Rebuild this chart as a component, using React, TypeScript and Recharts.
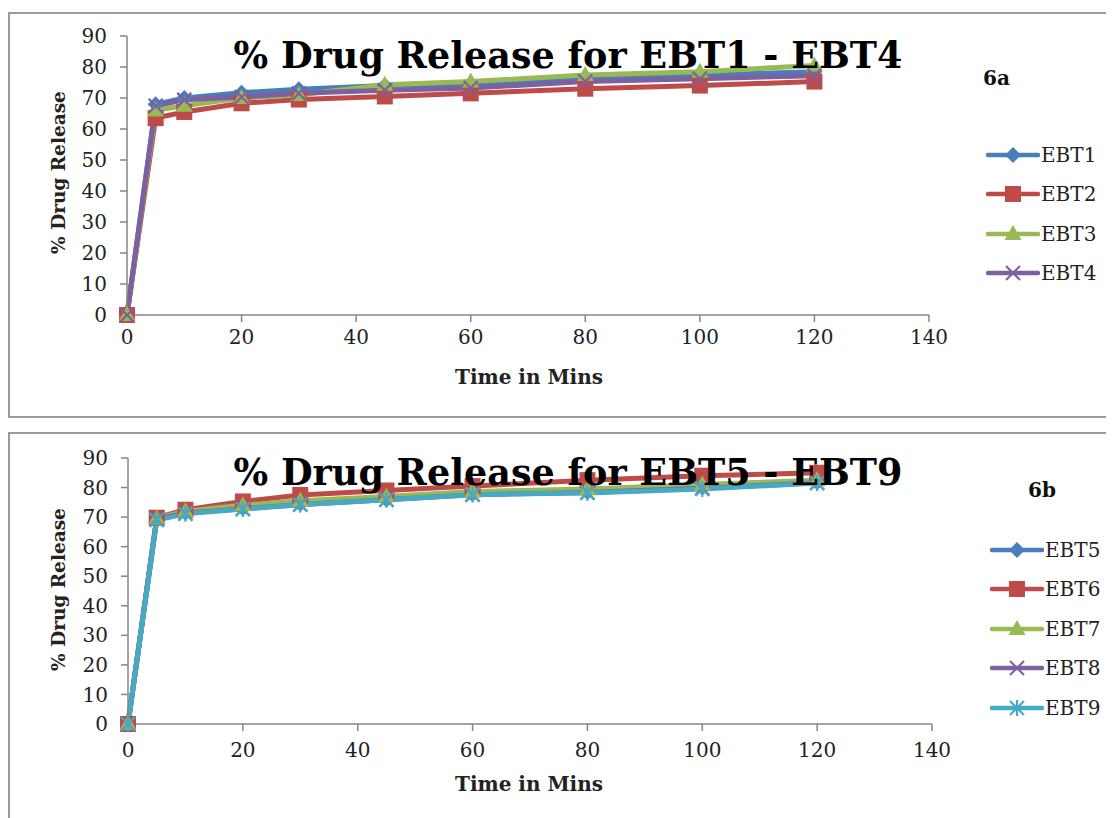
import React from "react";
import { Line, LineChart, XAxis, YAxis } from "recharts";

const TIME = [0, 5, 10, 20, 30, 45, 60, 80, 100, 120];

const EBT1 = [0, 68, 70, 71.7, 72.8, 74, 74.5, 76.3, 77.4, 78.5];
const EBT2 = [0, 63.5, 65.5, 68.3, 69.5, 70.5, 71.5, 73, 74, 75.3];
const EBT3 = [0, 66, 67.5, 70, 71, 74.3, 75.3, 77.4, 78.5, 80.5];
const EBT4 = [0, 67.5, 69.4, 70.3, 71.5, 72.5, 73.2, 75.3, 76.2, 77.2];

const EBT5 = [0, 69.5, 71.5, 73, 74.5, 76, 77.8, 78.5, 80, 81.8];
const EBT6 = [0, 69.8, 72.5, 75.3, 77.5, 79, 80.5, 82.5, 84, 85];
const EBT7 = [0, 69.5, 72, 74, 75.5, 77, 78.7, 79.5, 81, 82.5];
const EBT8 = [0, 69.3, 71.3, 72.8, 74.3, 75.9, 77.6, 78.3, 79.8, 81.6];
const EBT9 = [0, 69, 71.1, 72.7, 74.2, 75.9, 77.6, 78.2, 79.5, 81.5];

const X_TICKS = [0, 20, 40, 60, 80, 100, 120, 140];
const Y_TICKS = [0, 10, 20, 30, 40, 50, 60, 70, 80, 90];

const BLUE = "#4a7ebb";
const RED = "#be4b48";
const GREEN = "#98b954";
const PURPLE = "#7d60a0";
const CYAN = "#46aac5";
const AXIS = "#868686";
const SERIF = "'DejaVu Serif', 'Liberation Serif', serif";

type Shape = "diamond" | "square" | "triangle" | "x" | "star";
type Series = { name: string; values: number[]; color: string; shape: Shape };

const SERIES_A: Series[] = [
  { name: "EBT1", values: EBT1, color: BLUE, shape: "diamond" },
  { name: "EBT2", values: EBT2, color: RED, shape: "square" },
  { name: "EBT3", values: EBT3, color: GREEN, shape: "triangle" },
  { name: "EBT4", values: EBT4, color: PURPLE, shape: "x" },
];

const SERIES_B: Series[] = [
  { name: "EBT5", values: EBT5, color: BLUE, shape: "diamond" },
  { name: "EBT6", values: EBT6, color: RED, shape: "square" },
  { name: "EBT7", values: EBT7, color: GREEN, shape: "triangle" },
  { name: "EBT8", values: EBT8, color: PURPLE, shape: "x" },
  { name: "EBT9", values: EBT9, color: CYAN, shape: "star" },
];

function Marker({ cx, cy, shape, color }: { cx: number; cy: number; shape: Shape; color: string }) {
  if (cx == null || cy == null) return null;
  switch (shape) {
    case "diamond":
      return <polygon points={`${cx},${cy - 8} ${cx + 8},${cy} ${cx},${cy + 8} ${cx - 8},${cy}`} fill={color} />;
    case "square":
      return <rect x={cx - 8} y={cy - 8} width={16} height={16} fill={color} />;
    case "triangle":
      return <polygon points={`${cx},${cy - 9} ${cx + 8.5},${cy + 6} ${cx - 8.5},${cy + 6}`} fill={color} />;
    case "x":
      return (
        <g stroke={color} strokeWidth={2.2}>
          <line x1={cx - 7} y1={cy - 7} x2={cx + 7} y2={cy + 7} />
          <line x1={cx - 7} y1={cy + 7} x2={cx + 7} y2={cy - 7} />
        </g>
      );
    default:
      return (
        <g stroke={color} strokeWidth={2.2}>
          <line x1={cx - 7} y1={cy - 7} x2={cx + 7} y2={cy + 7} />
          <line x1={cx - 7} y1={cy + 7} x2={cx + 7} y2={cy - 7} />
          <line x1={cx} y1={cy - 8} x2={cx} y2={cy + 8} />
        </g>
      );
  }
}

function buildRows(series: Series[]) {
  return TIME.map((t, i) => {
    const row: Record<string, number> = { t };
    series.forEach((s) => (row[s.name] = s.values[i]));
    return row;
  });
}

type PanelProps = {
  series: Series[];
  title: string;
  tag: string;
  top: number;
  height: number;
  chartHeight: number;
  margin: { top: number; right: number; left: number; bottom: number };
  xTickMargin: number;
  legendPos: { left: number; top: number; gap: number };
  titleY: number;
  tagPos: { left: number; top: number };
  xLabelY: number;
  yLabelY: number;
};

function Panel(p: PanelProps) {
  const rows = buildRows(p.series);
  return (
    <div
      style={{
        position: "absolute",
        left: 0,
        top: p.top,
        width: 1120,
        height: p.height,
        border: "2px solid #9a9a9a",
        background: "#fff",
        overflow: "hidden",
      }}
    >
      <LineChart width={1100} height={p.chartHeight} data={rows} margin={p.margin}>
        <XAxis
          type="number"
          dataKey="t"
          domain={[0, 140]}
          ticks={X_TICKS}
          interval={0}
          stroke={AXIS}
          strokeWidth={1.5}
          tickSize={7}
          tickMargin={p.xTickMargin}
          height={30}
          tick={{ fontSize: 20, fill: "#222", fontFamily: SERIF }}
        />
        <YAxis
          type="number"
          domain={[0, 90]}
          ticks={Y_TICKS}
          interval={0}
          stroke={AXIS}
          strokeWidth={1.5}
          tickSize={7}
          tickMargin={13}
          width={50}
          tick={{ fontSize: 20, fill: "#222", fontFamily: SERIF }}
        />
        {p.series.map((s) => (
          <Line
            key={s.name}
            dataKey={s.name}
            stroke={s.color}
            strokeWidth={5}
            isAnimationActive={false}
            dot={(d: any) => <Marker key={`${s.name}-${d.index}`} cx={d.cx} cy={d.cy} shape={s.shape} color={s.color} />}
            activeDot={false}
          />
        ))}
      </LineChart>
      <div style={{ position: "absolute", left: p.legendPos.left, top: p.legendPos.top }}>
        {p.series.map((s) => (
          <div key={s.name} style={{ display: "flex", alignItems: "center", height: p.legendPos.gap }}>
            <svg width={54} height={20}>
              <line x1={2} y1={10} x2={52} y2={10} stroke={s.color} strokeWidth={4.5} strokeLinecap="round" />
              <Marker cx={27} cy={10} shape={s.shape} color={s.color} />
            </svg>
            <span style={{ fontFamily: SERIF, fontSize: 20, color: "#222", marginLeft: 1 }}>{s.name}</span>
          </div>
        ))}
      </div>
      <div
        style={{
          position: "absolute",
          left: 0,
          width: 1116,
          top: p.titleY,
          textAlign: "center",
          fontFamily: SERIF,
          fontWeight: "bold",
          fontSize: 36.5,
          color: "#000",
        }}
      >
        {p.title}
      </div>
      <div
        style={{
          position: "absolute",
          left: p.tagPos.left,
          top: p.tagPos.top,
          fontFamily: SERIF,
          fontWeight: "bold",
          fontSize: 20,
          color: "#111",
        }}
      >
        {p.tag}
      </div>
      <div
        style={{
          position: "absolute",
          left: 0,
          width: 1038,
          top: p.xLabelY,
          textAlign: "center",
          fontFamily: SERIF,
          fontWeight: "bold",
          fontSize: 20,
          color: "#222",
        }}
      >
        Time in Mins
      </div>
      <div
        style={{
          position: "absolute",
          left: 48 - 100,
          top: p.yLabelY - 13,
          width: 200,
          textAlign: "center",
          transform: "rotate(-90deg)",
          fontFamily: SERIF,
          fontWeight: "bold",
          fontSize: 18.5,
          color: "#222",
        }}
      >
        % Drug Release
      </div>
    </div>
  );
}

export default function App() {
  return (
    <div style={{ position: "relative", width: 1106, height: 810, overflow: "hidden" }}>
      <Panel
        series={SERIES_A}
        title="% Drug Release for EBT1 - EBT4"
        tag="6a"
        top={4}
        height={402}
        chartHeight={400}
        margin={{ top: 22, right: 181, left: 67, bottom: 69 }}
        xTickMargin={8}
        legendPos={{ left: 976, top: 121, gap: 39.5 }}
        titleY={20}
        tagPos={{ left: 973, top: 52 }}
        xLabelY={351}
        yLabelY={161}
      />
      <Panel
        series={SERIES_B}
        title="% Drug Release for EBT5 - EBT9"
        tag="6b"
        top={424}
        height={400}
        chartHeight={380}
        margin={{ top: 24, right: 178, left: 68, bottom: 60 }}
        xTickMargin={12}
        legendPos={{ left: 980, top: 96, gap: 39.5 }}
        titleY={17}
        tagPos={{ left: 1018, top: 44 }}
        xLabelY={338}
        yLabelY={158}
      />
    </div>
  );
}
